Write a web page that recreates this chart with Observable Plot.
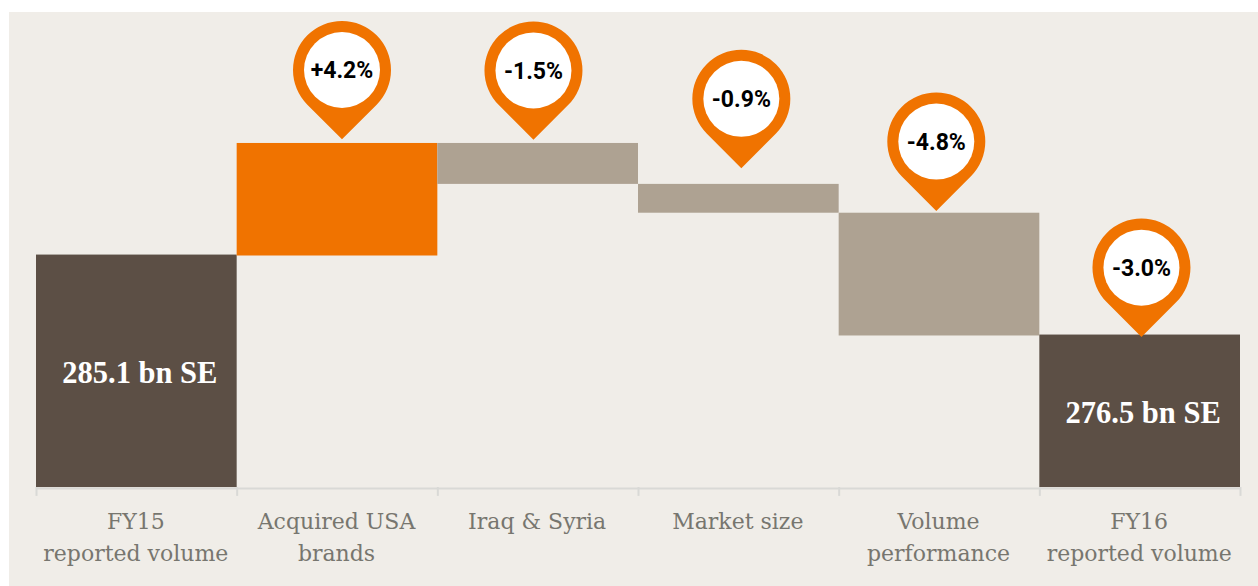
<!DOCTYPE html>
<html><head><meta charset="utf-8">
<script src="https://cdn.jsdelivr.net/npm/d3@7"></script>
<script src="https://cdn.jsdelivr.net/npm/@observablehq/plot@0.6"></script>
<style>
html,body{margin:0;padding:0;background:#fff;overflow:hidden}
#wrap{padding:12px 0 0 9px}
svg{display:block;background:#f0ede8}
</style></head><body><div id="wrap"></div>
<script>
const categories = ["FY15\nreported volume","Acquired USA\nbrands","Iraq & Syria","Market size","Volume\nperformance","FY16\nreported volume"];
const barLow  = [260.1, 285.0, 292.7, 289.6, 276.4, 260.1];
const barHigh = [285.1, 297.1, 297.1, 292.7, 289.6, 276.5];
const barKind = ["total","up","down","down","down","total"];
const pinCategories = categories.slice(1);
const pinLabels = ["+4.2%","-1.5%","-0.9%","-4.8%","-3.0%"];
const pinCentre = [305.0, 304.95, 301.9, 297.3, 283.75];
const pinShift = [4.5, -4.7, 2.5, -3.2, 1.3];
const totalLabels = ["285.1 bn SE","276.5 bn SE"];
const totalCategories = [categories[0],categories[5]];
const totalLabelY = [272.4, 268.1];

const W=1249,H=574,ML=27,MR=18,BW=(W-ML-MR)/6;
const bars = categories.map((c,i)=>({c,lo:barLow[i],hi:barHigh[i],k:barKind[i]}));
const pins = pinLabels.map((l,i)=>({c:pinCategories[i],l,y:pinCentre[i],s:pinShift[i]}));
const pinSymbol = {draw(ctx,size){
  const R=Math.sqrt(size/Math.PI),q=R*Math.SQRT1_2;
  ctx.moveTo(0,R*Math.SQRT2);ctx.lineTo(-q,q);
  ctx.arc(0,0,R,Math.PI*.75,Math.PI*2.25);ctx.closePath();
}};
const pinMarks = pins.flatMap(p=>[
  Plot.dot([p],{x:"c",y:"y",dx:p.s,r:49,symbol:pinSymbol,fill:"#f07300",stroke:"none"}),
  Plot.dot([p],{x:"c",y:"y",dx:p.s,r:38,fill:"#fff",stroke:"none"}),
  Plot.text([p],{x:"c",y:"y",dx:p.s,dy:1,text:"l",fill:"#000",fontFamily:"Roboto",fontWeight:700,fontSize:23})
]);
const chart = Plot.plot({
  width:W,height:H,marginLeft:ML,marginRight:MR,marginTop:0,marginBottom:98,
  style:{background:"#f0ede8",overflow:"visible"},
  x:{type:"band",domain:categories,padding:0,round:false,axis:null},
  y:{domain:[260,310],range:[476,11],axis:null},
  color:{domain:["total","up","down"],range:["#5c4f45","#f07300","#aea292"]},
  marks:[
    Plot.barY(bars,{x:"c",y1:"lo",y2:"hi",fill:"k"}),
    Plot.ruleY([260.1],{y:d=>d,dy:1,stroke:"#d9d9d6",strokeWidth:2}),
    Plot.axisX({domain:categories,tickSize:0,tickPadding:18,dx:-1,fontSize:22,lineHeight:1.45,fill:"#77766f",
      fontFamily:"'DejaVu Serif',serif",lineAnchor:"top",label:null}),
    Plot.ruleX(categories,{x:d=>d,dx:-BW/2,y1:260.1,y2:259.15,stroke:"#d9d9d6",strokeWidth:2}),
    Plot.ruleX([categories[5]],{x:d=>d,dx:BW/2,y1:260.1,y2:259.15,stroke:"#d9d9d6",strokeWidth:2}),
    Plot.text(totalLabels,{x:(d,i)=>totalCategories[i],y:(d,i)=>totalLabelY[i],text:d=>d,dx:3,fill:"#fff",
      fontFamily:"'Liberation Serif',serif",fontWeight:700,fontSize:30.5}),
    ...pinMarks
  ]
});
document.getElementById("wrap").appendChild(chart);
</script></body></html>
